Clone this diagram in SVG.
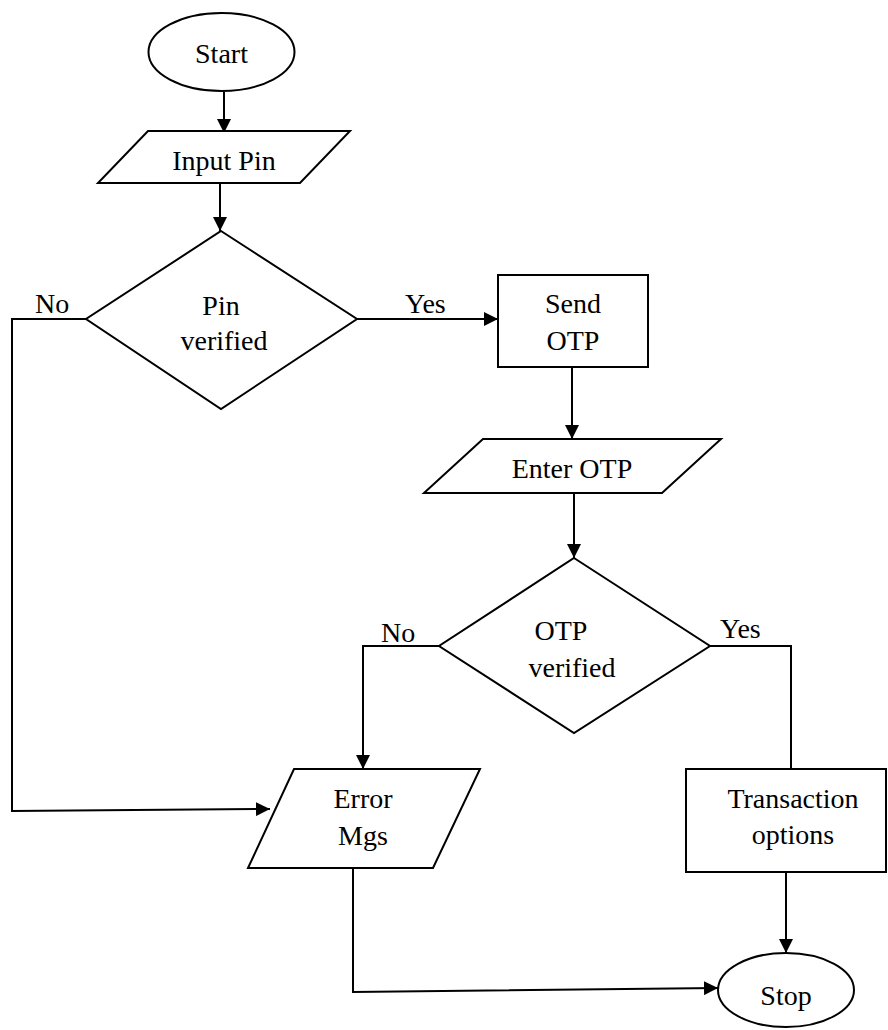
<svg xmlns="http://www.w3.org/2000/svg" width="888" height="1030" viewBox="0 0 888 1030">
<style>
.s{fill:#fff;stroke:#000;stroke-width:2}
.c{fill:none;stroke:#000;stroke-width:2}
svg text.t{font-family:'Liberation Serif',serif !important;font-size:28px !important;fill:#000}
</style>
<defs>
<marker id="arr" markerUnits="userSpaceOnUse" markerWidth="14" markerHeight="14" refX="14" refY="7" orient="auto"><path d="M0,0 L14,7 L0,14 z" fill="#000"/></marker>
</defs>
<rect width="888" height="1030" fill="#fff"/>
<g id="connectors">
<path class="c" d="M224,92 L224,133" marker-end="url(#arr)"/>
<path class="c" d="M220,183 L220,231" marker-end="url(#arr)"/>
<path class="c" d="M357,319 L498,319" marker-end="url(#arr)"/>
<path class="c" d="M86,319 L12,319 L12,811 L270,809" marker-end="url(#arr)"/>
<path class="c" d="M572,367 L572,439" marker-end="url(#arr)"/>
<path class="c" d="M574,493 L574,558" marker-end="url(#arr)"/>
<path class="c" d="M439,646 L363,646 L363,769" marker-end="url(#arr)"/>
<path class="c" d="M710,646 L791,646 L791,769"/>
<path class="c" d="M786,872 L786,953" marker-end="url(#arr)"/>
<path class="c" d="M353,868 L353,992 L718,988" marker-end="url(#arr)"/>
<text class="t" x="35" y="313" style="font-family:'Liberation Serif',serif !important">No</text>
<text class="t" x="405" y="313" style="font-family:'Liberation Serif',serif !important">Yes</text>
<text class="t" x="381" y="642" style="font-family:'Liberation Serif',serif !important">No</text>
<text class="t" x="720" y="638" style="font-family:'Liberation Serif',serif !important">Yes</text>
</g>
<g id="start">
<ellipse class="s" cx="221.5" cy="52" rx="73" ry="39"/>
<text class="t" x="221.5" y="63" text-anchor="middle" style="font-family:'Liberation Serif',serif !important">Start</text>
</g>
<g id="input-pin">
<polygon class="s" points="148,131 350,131 300,183 98,183"/>
<text class="t" x="224" y="170" text-anchor="middle" style="font-family:'Liberation Serif',serif !important">Input Pin</text>
</g>
<g id="pin-verified">
<polygon class="s" points="221,231 357,319 221,409 86,319"/>
<text class="t" x="221" y="315" text-anchor="middle" style="font-family:'Liberation Serif',serif !important">Pin</text>
<text class="t" x="224" y="350" text-anchor="middle" style="font-family:'Liberation Serif',serif !important">verified</text>
</g>
<g id="send-otp">
<rect class="s" x="498" y="275" width="150" height="92"/>
<text class="t" x="573" y="313" text-anchor="middle" style="font-family:'Liberation Serif',serif !important">Send</text>
<text class="t" x="573" y="350" text-anchor="middle" style="font-family:'Liberation Serif',serif !important">OTP</text>
</g>
<g id="enter-otp">
<polygon class="s" points="483,439 721,439 662,493 424,493"/>
<text class="t" x="572" y="478" text-anchor="middle" style="font-family:'Liberation Serif',serif !important">Enter OTP</text>
</g>
<g id="otp-verified">
<polygon class="s" points="574,558 710,646 574,733 439,646"/>
<text class="t" x="561" y="640" text-anchor="middle" style="font-family:'Liberation Serif',serif !important">OTP</text>
<text class="t" x="572" y="677" text-anchor="middle" style="font-family:'Liberation Serif',serif !important">verified</text>
</g>
<g id="error-mgs">
<polygon class="s" points="294,769 480,769 433,868 248,868"/>
<text class="t" x="363" y="808" text-anchor="middle" style="font-family:'Liberation Serif',serif !important">Error</text>
<text class="t" x="363" y="845" text-anchor="middle" style="font-family:'Liberation Serif',serif !important">Mgs</text>
</g>
<g id="transaction-options">
<rect class="s" x="686" y="769" width="200" height="103"/>
<text class="t" x="793" y="808" text-anchor="middle" style="font-family:'Liberation Serif',serif !important">Transaction</text>
<text class="t" x="793" y="844" text-anchor="middle" style="font-family:'Liberation Serif',serif !important">options</text>
</g>
<g id="stop">
<ellipse class="s" cx="786" cy="990" rx="68" ry="37"/>
<text class="t" x="786" y="1005" text-anchor="middle" style="font-family:'Liberation Serif',serif !important">Stop</text>
</g>
</svg>
